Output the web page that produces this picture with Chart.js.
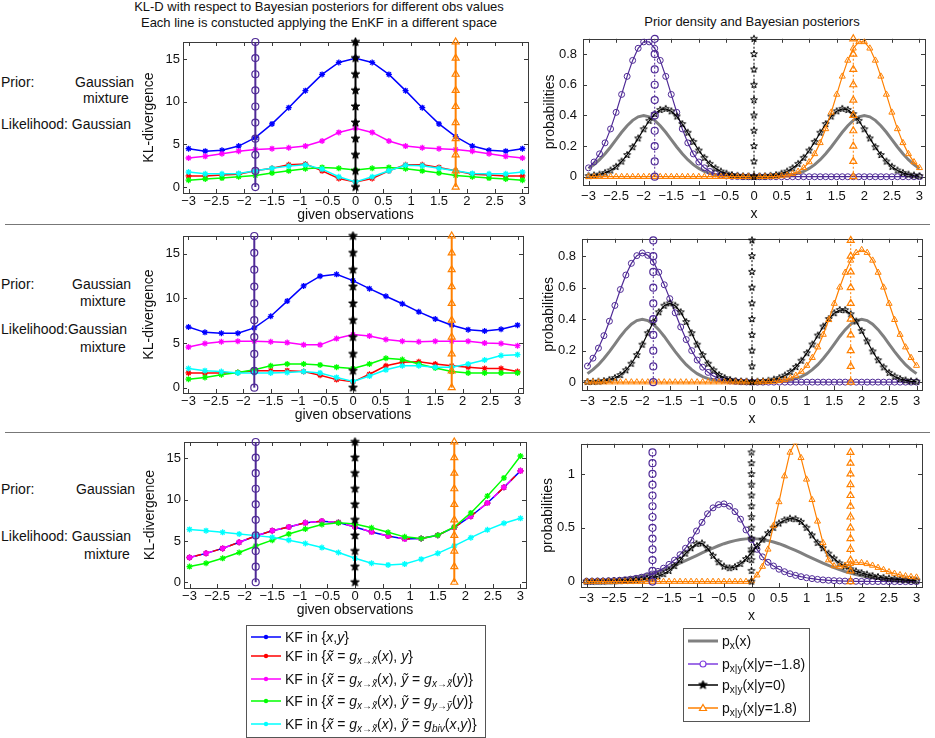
<!DOCTYPE html>
<html>
<head>
<meta charset="utf-8">
<script src="https://cdn.jsdelivr.net/npm/chart.js@4.4.1/dist/chart.umd.min.js"></script>
<style>
  body { margin: 0; background: #fff; }
  #fig { position: relative; width: 935px; height: 738px; overflow: hidden; font-family: "Liberation Sans", Arial, sans-serif; color: #111; }
  .t { position: absolute; font-size: 14px; line-height: 16px; white-space: nowrap; }
  .ttl { position: absolute; font-size: 13px; line-height: 16px; white-space: nowrap; text-align: center; }
  canvas { position: absolute; }
  .sep { position: absolute; left: 5px; width: 925px; height: 0; border-top: 1.5px solid #777; }
  .leg { position: absolute; border: 1px solid #555; background: #fff; }
  .row { position: absolute; left: 4px; height: 20px; font-size: 14px; white-space: nowrap; display: flex; align-items: center; }
  .row canvas { position: static; margin-right: 4px; flex: none; }
  .row sub { font-size: 10px; vertical-align: -3px; line-height: 0; }
</style>
</head>
<body>
<div id="fig">
  <div class="ttl" style="left:0;width:638px;top:-1px">KL-D with respect to Bayesian posteriors for different obs values</div>
  <div class="ttl" style="left:0;width:638px;top:15px">Each line is constucted applying the EnKF in a different space</div>
  <div class="ttl" style="left:600px;width:304px;top:14px">Prior density and Bayesian posteriors</div>

  <div class="t" style="left:1px;top:74px">Prior:</div>
  <div class="t" style="left:75px;top:74px">Gaussian</div>
  <div class="t" style="left:83px;top:90px">mixture</div>
  <div class="t" style="left:1px;top:116px">Likelihood: Gaussian</div>

  <div class="t" style="left:1px;top:276px">Prior:</div>
  <div class="t" style="left:72px;top:276px">Gaussian</div>
  <div class="t" style="left:80px;top:293px">mixture</div>
  <div class="t" style="left:1px;top:321px">Likelihood:Gaussian</div>
  <div class="t" style="left:80px;top:339px">mixture</div>

  <div class="t" style="left:1px;top:481px">Prior:</div>
  <div class="t" style="left:76px;top:481px">Gaussian</div>
  <div class="t" style="left:1px;top:528px">Likelihood: Gaussian</div>
  <div class="t" style="left:84px;top:546px">mixture</div>

  <div class="sep" style="top:224px"></div>
  <div class="sep" style="top:432px"></div>

  <canvas id="c1"></canvas>
  <canvas id="c2"></canvas>
  <canvas id="c3"></canvas>
  <canvas id="c4"></canvas>
  <canvas id="c5"></canvas>
  <canvas id="c6"></canvas>

  <div class="leg" style="left:246px;top:625px;width:238px;height:111px">
    <div class="row" style="top:1px"><canvas class="smp" data-c="#0000ff" data-m="dot"></canvas><span>KF in {<i>x</i>,<i>y</i>}</span></div>
    <div class="row" style="top:20px"><canvas class="smp" data-c="#ff0000" data-m="dot"></canvas><span>KF in {<i>x&#771;</i> = <i>g</i><sub><i>x</i>&rarr;<i>x&#771;</i></sub>(<i>x</i>), <i>y</i>}</span></div>
    <div class="row" style="top:43px"><canvas class="smp" data-c="#ff00ff" data-m="dot"></canvas><span>KF in {<i>x&#771;</i> = <i>g</i><sub><i>x</i>&rarr;<i>x&#771;</i></sub>(<i>x</i>), <i>&#7929;</i> = <i>g</i><sub><i>x</i>&rarr;<i>x&#771;</i></sub>(<i>y</i>)}</span></div>
    <div class="row" style="top:65px"><canvas class="smp" data-c="#00ff00" data-m="dot"></canvas><span>KF in {<i>x&#771;</i> = <i>g</i><sub><i>x</i>&rarr;<i>x&#771;</i></sub>(<i>x</i>), <i>&#7929;</i> = <i>g</i><sub><i>y</i>&rarr;<i>&#7929;</i></sub>(<i>y</i>)}</span></div>
    <div class="row" style="top:88px"><canvas class="smp" data-c="#00ffff" data-m="dot"></canvas><span>KF in {<i>x&#771;</i> = <i>g</i><sub><i>x</i>&rarr;<i>x&#771;</i></sub>(<i>x</i>), <i>&#7929;</i> = <i>g</i><sub><i>biv</i></sub>(<i>x</i>,<i>y</i>)}</span></div>
  </div>

  <div class="leg" style="left:683px;top:628px;width:125px;height:92px">
    <div class="row" style="top:2px"><canvas class="smp" data-c="#808080" data-m="none" data-w="3"></canvas><span>p<sub>x</sub>(x)</span></div>
    <div class="row" style="top:25px"><canvas class="smp" data-c="#7f3fdf" data-m="circle"></canvas><span>p<sub>x|y</sub>(x|y=&minus;1.8)</span></div>
    <div class="row" style="top:46px"><canvas class="smp" data-c="#000000" data-m="star"></canvas><span>p<sub>x|y</sub>(x|y=0)</span></div>
    <div class="row" style="top:69px"><canvas class="smp" data-c="#ff8000" data-m="triangle"></canvas><span>p<sub>x|y</sub>(x|y=1.8)</span></div>
  </div>
</div>

<script>
// observation values used in the KL-divergence panels
const obsX = [-3, -2.7, -2.4, -2.1, -1.8, -1.5, -1.2, -0.9, -0.6, -0.3, 0, 0.3, 0.6, 0.9, 1.2, 1.5, 1.8, 2.1, 2.4, 2.7, 3];

// x grid of the density panels
const gridX = [-3, -2.9, -2.8, -2.7, -2.6, -2.5, -2.4, -2.3, -2.2, -2.1,
  -2, -1.9, -1.8, -1.7, -1.6, -1.5, -1.4, -1.3, -1.2, -1.1,
  -1, -0.9, -0.8, -0.7, -0.6, -0.5, -0.4, -0.3, -0.2, -0.1,
  0,
  0.1, 0.2, 0.3, 0.4, 0.5, 0.6, 0.7, 0.8, 0.9, 1,
  1.1, 1.2, 1.3, 1.4, 1.5, 1.6, 1.7, 1.8, 1.9, 2,
  2.1, 2.2, 2.3, 2.4, 2.5, 2.6, 2.7, 2.8, 2.9, 3];

const obsMarks = [-1.8, 0, 1.8];
const klMarkY = [0, 1.89, 3.78, 5.67, 7.56, 9.44, 11.33, 13.22, 15.11, 17];
const pdfMarkY = [0, 0.1, 0.2, 0.3, 0.4, 0.5, 0.6, 0.7, 0.8, 0.9];
const pdfMarkYBottom = [0, 0.1, 0.2, 0.3, 0.4, 0.5, 0.6, 0.7, 0.8, 0.9, 1, 1.1, 1.2];

const xTicks = [-3, -2.5, -2, -1.5, -1, -0.5, 0, 0.5, 1, 1.5, 2, 2.5, 3];
const klTicks = [0, 5, 10, 15];
const pdfTicks = [0, 0.2, 0.4, 0.6, 0.8];
const pdfTicksBottom = [0, 0.5, 1];

// KL divergence, top row (prior mixture, gaussian likelihood)
const blueTop = [4.5, 4.2, 4.3, 4.8, 5.8, 7.4, 9.3, 11.3, 13.2, 14.6, 15.1, 14.6, 13.2, 11.3, 9.3, 7.4, 5.9, 4.8, 4.3, 4.2, 4.5];
const redTop = [1.3, 1.3, 1.4, 1.5, 1.9, 2.2, 2.6, 2.7, 1.9, 1.0, 0.6, 1.0, 1.9, 2.6, 2.6, 2.3, 1.9, 1.5, 1.4, 1.3, 1.3];
const magentaTop = [3.4, 3.6, 3.9, 4.2, 4.4, 4.5, 4.6, 4.8, 5.4, 6.4, 6.9, 6.4, 5.4, 4.8, 4.6, 4.5, 4.4, 4.2, 3.9, 3.6, 3.4];
const greenTop = [0.8, 0.95, 1.05, 1.2, 1.35, 1.65, 1.9, 2.15, 2.3, 2.2, 2.0, 2.2, 2.3, 2.15, 1.9, 1.65, 1.35, 1.2, 1.05, 0.95, 0.8];
const cyanTop = [1.75, 1.55, 1.55, 1.6, 1.9, 2.2, 2.45, 2.6, 2.1, 1.2, 0.6, 1.2, 1.9, 2.55, 2.5, 2.2, 1.9, 1.6, 1.55, 1.55, 1.75];

// middle row (prior mixture, mixture likelihood)
const blueMid = [6.8, 6.2, 6.1, 6.1, 6.7, 8.0, 9.7, 11.4, 12.5, 12.7, 12.0, 11.1, 10.25, 9.4, 8.5, 7.7, 7.0, 6.5, 6.35, 6.55, 7.0];
const redMid = [1.65, 1.65, 1.65, 1.7, 1.9, 1.9, 1.9, 1.8, 1.4, 0.9, 0.65, 1.5, 2.45, 2.85, 2.9, 2.65, 2.45, 2.3, 2.15, 2.15, 1.8];
const magentaMid = [4.55, 4.95, 5.15, 5.2, 5.2, 5.15, 5.05, 4.8, 4.8, 5.5, 5.95, 5.8, 5.4, 5.2, 5.15, 5.2, 5.2, 5.2, 5.0, 4.95, 4.7];
const greenMid = [0.95, 1.15, 1.45, 1.7, 2.0, 2.45, 2.65, 2.65, 2.55, 2.3, 2.15, 2.65, 3.3, 3.15, 2.65, 2.2, 1.8, 1.65, 1.65, 1.65, 1.65];
const cyanMid = [2.15, 1.9, 1.8, 1.65, 1.65, 1.65, 1.7, 1.8, 1.65, 1.15, 0.7, 1.3, 2.0, 2.45, 2.45, 2.3, 2.3, 2.65, 3.1, 3.6, 3.7];

// bottom row (gaussian prior, mixture likelihood)
const blueBot = [3.0, 3.5, 4.1, 4.85, 5.6, 6.25, 6.7, 7.2, 7.4, 7.25, 6.7, 6.1, 5.6, 5.25, 5.3, 5.7, 6.65, 8.0, 9.6, 11.5, 13.5];
const redBot = [3.0, 3.5, 4.1, 4.85, 5.6, 6.25, 6.7, 7.2, 7.4, 7.25, 6.7, 6.1, 5.6, 5.25, 5.3, 5.7, 6.65, 8.0, 9.6, 11.5, 13.5];
const magentaBot = [3.0, 3.5, 4.1, 4.85, 5.6, 6.25, 6.7, 7.2, 7.4, 7.25, 6.7, 6.1, 5.6, 5.25, 5.3, 5.7, 6.65, 8.0, 9.6, 11.5, 13.5];
const greenBot = [1.9, 2.3, 2.9, 3.6, 4.4, 5.1, 5.85, 6.45, 7.0, 7.2, 7.05, 6.6, 6.05, 5.5, 5.3, 5.7, 6.7, 8.4, 10.45, 12.65, 15.3];
const cyanBot = [6.4, 6.25, 6.05, 5.85, 5.65, 5.45, 5.1, 4.7, 4.2, 3.6, 2.9, 2.3, 2.1, 2.2, 2.8, 3.5, 4.4, 5.4, 6.35, 7.15, 7.75];

// densities
const priorMix = [0.054, 0.079, 0.111, 0.150, 0.194, 0.242, 0.290, 0.333, 0.368, 0.391,
  0.399, 0.391, 0.368, 0.333, 0.290, 0.242, 0.194, 0.150, 0.111, 0.079,
  0.054, 0.035, 0.022, 0.014, 0.008, 0.004, 0.002, 0.001, 0, 0,
  0,
  0, 0, 0.001, 0.002, 0.004, 0.008, 0.014, 0.022, 0.035, 0.054,
  0.079, 0.111, 0.150, 0.194, 0.242, 0.290, 0.333, 0.368, 0.391, 0.399,
  0.391, 0.368, 0.333, 0.290, 0.242, 0.194, 0.150, 0.111, 0.079, 0.054];
const priorGauss = [0.004, 0.006, 0.008, 0.010, 0.014, 0.018, 0.022, 0.028, 0.035, 0.044,
  0.054, 0.066, 0.079, 0.094, 0.111, 0.130, 0.150, 0.171, 0.194, 0.218,
  0.242, 0.266, 0.290, 0.312, 0.333, 0.352, 0.368, 0.381, 0.391, 0.397,
  0.399,
  0.397, 0.391, 0.381, 0.368, 0.352, 0.333, 0.312, 0.290, 0.266, 0.242,
  0.218, 0.194, 0.171, 0.150, 0.130, 0.111, 0.094, 0.079, 0.066, 0.054,
  0.044, 0.035, 0.028, 0.022, 0.018, 0.014, 0.010, 0.008, 0.006, 0.004];

const purpleTop = [0.058, 0.096, 0.149, 0.221, 0.312, 0.420, 0.537, 0.655, 0.759, 0.838,
  0.880, 0.880, 0.838, 0.759, 0.655, 0.537, 0.420, 0.312, 0.221, 0.149,
  0.096, 0.058, 0.034, 0.019, 0.010, 0.005, 0.002, 0.001, 0, 0,
  0,
  0, 0, 0, 0, 0, 0, 0, 0, 0, 0,
  0, 0, 0, 0, 0, 0, 0, 0, 0, 0,
  0, 0, 0, 0, 0, 0, 0, 0, 0, 0];
const blackTop = [0.004, 0.008, 0.014, 0.025, 0.041, 0.065, 0.099, 0.142, 0.193, 0.250,
  0.310, 0.365, 0.409, 0.436, 0.443, 0.427, 0.393, 0.344, 0.287, 0.227,
  0.171, 0.123, 0.084, 0.055, 0.034, 0.020, 0.011, 0.006, 0.003, 0.002,
  0.001,
  0.002, 0.003, 0.006, 0.011, 0.020, 0.034, 0.055, 0.084, 0.123, 0.171,
  0.227, 0.287, 0.344, 0.393, 0.427, 0.443, 0.436, 0.409, 0.365, 0.310,
  0.250, 0.193, 0.142, 0.099, 0.065, 0.041, 0.025, 0.014, 0.008, 0.004];
const orangeTop = [0, 0, 0, 0, 0, 0, 0, 0, 0, 0,
  0, 0, 0, 0, 0, 0, 0, 0, 0, 0,
  0, 0, 0, 0, 0, 0, 0, 0, 0, 0,
  0,
  0, 0, 0.001, 0.002, 0.005, 0.010, 0.019, 0.034, 0.058, 0.096,
  0.149, 0.221, 0.312, 0.420, 0.537, 0.655, 0.759, 0.838, 0.880, 0.880,
  0.838, 0.759, 0.655, 0.537, 0.420, 0.312, 0.221, 0.149, 0.096, 0.058];

const purpleMid = [0.102, 0.152, 0.216, 0.295, 0.387, 0.487, 0.588, 0.680, 0.754, 0.803,
  0.820, 0.805, 0.763, 0.698, 0.618, 0.530, 0.440, 0.350, 0.270, 0.200,
  0.140, 0.095, 0.062, 0.038, 0.023, 0.013, 0.007, 0.004, 0.002, 0.001,
  0,
  0, 0, 0, 0, 0, 0, 0, 0, 0, 0,
  0, 0, 0, 0, 0, 0, 0, 0, 0, 0,
  0, 0, 0, 0, 0, 0, 0, 0, 0, 0];
const blackMid = [0.001, 0.002, 0.003, 0.007, 0.014, 0.026, 0.045, 0.075, 0.117, 0.172,
  0.238, 0.311, 0.382, 0.444, 0.485, 0.500, 0.485, 0.444, 0.382, 0.311,
  0.238, 0.172, 0.117, 0.075, 0.045, 0.026, 0.014, 0.007, 0.004, 0.003,
  0.002,
  0.003, 0.005, 0.009, 0.016, 0.026, 0.042, 0.065, 0.096, 0.136, 0.184,
  0.239, 0.296, 0.353, 0.401, 0.438, 0.458, 0.457, 0.431, 0.385, 0.325,
  0.259, 0.195, 0.139, 0.094, 0.059, 0.036, 0.020, 0.011, 0.005, 0.003];
const orangeMid = [0, 0, 0, 0, 0, 0, 0, 0, 0, 0,
  0, 0, 0, 0, 0, 0, 0, 0, 0, 0,
  0, 0, 0, 0, 0, 0, 0, 0, 0, 0,
  0,
  0, 0.001, 0.002, 0.004, 0.008, 0.014, 0.025, 0.042, 0.067, 0.105,
  0.155, 0.222, 0.302, 0.396, 0.499, 0.602, 0.696, 0.773, 0.822, 0.840,
  0.822, 0.773, 0.696, 0.602, 0.499, 0.396, 0.302, 0.222, 0.155, 0.105];

const purpleBot = [0.003, 0.004, 0.005, 0.006, 0.008, 0.010, 0.013, 0.017, 0.023, 0.031,
  0.041, 0.054, 0.072, 0.095, 0.125, 0.160, 0.200, 0.250, 0.310, 0.385,
  0.470, 0.550, 0.630, 0.685, 0.715, 0.722, 0.700, 0.650, 0.580, 0.480,
  0.390,
  0.300, 0.230, 0.180, 0.145, 0.115, 0.092, 0.073, 0.058, 0.046, 0.036,
  0.028, 0.021, 0.016, 0.012, 0.009, 0.007, 0.005, 0.004, 0.003, 0.002,
  0.002, 0.001, 0.001, 0.001, 0, 0, 0, 0, 0, 0];
const blackBot = [0, 0, 0.001, 0.001, 0.002, 0.003, 0.004, 0.006, 0.009, 0.013,
  0.018, 0.025, 0.035, 0.050, 0.070, 0.100, 0.145, 0.200, 0.260, 0.310,
  0.350, 0.355, 0.310, 0.240, 0.180, 0.140, 0.125, 0.135, 0.165, 0.210,
  0.270,
  0.330, 0.390, 0.450, 0.500, 0.540, 0.570, 0.585, 0.580, 0.555, 0.500,
  0.430, 0.360, 0.310, 0.260, 0.215, 0.170, 0.140, 0.115, 0.095, 0.080,
  0.065, 0.053, 0.043, 0.035, 0.028, 0.023, 0.018, 0.014, 0.011, 0.009];
const orangeBot = [0, 0, 0, 0, 0, 0, 0, 0, 0, 0,
  0, 0, 0, 0, 0, 0, 0, 0, 0, 0,
  0, 0, 0, 0, 0, 0, 0, 0, 0, 0,
  0.005,
  0.06, 0.14, 0.30, 0.52, 0.74, 0.98, 1.20, 1.30, 1.15, 0.95,
  0.76, 0.56, 0.36, 0.20, 0.145, 0.14, 0.15, 0.165, 0.175, 0.175,
  0.165, 0.15, 0.13, 0.11, 0.09, 0.075, 0.062, 0.052, 0.045, 0.04];

const PURPLE = '#4f2a96';
const ORANGE = '#ff8000';

Chart.defaults.font.family = '"Liberation Sans", Arial, sans-serif';
Chart.defaults.color = '#111';

// pentagram marker, matlab 'p'
function makeStar(r, fill, stroke) {
  const c = document.createElement('canvas');
  const s = Math.ceil(2 * r + 2);
  c.width = s;
  c.height = s;
  const g = c.getContext('2d');
  g.beginPath();
  for (let i = 0; i < 10; i++) {
    const rad = i % 2 ? r * 0.42 : r;
    const a = -Math.PI / 2 + i * Math.PI / 5;
    g.lineTo(s / 2 + rad * Math.cos(a), s / 2 + rad * Math.sin(a));
  }
  g.closePath();
  if (fill) {
    g.fillStyle = fill;
    g.fill();
  }
  g.strokeStyle = stroke;
  g.lineWidth = 1;
  g.stroke();
  return c;
}
const starFilled = makeStar(4.5, '#000', '#000');
const starOpen = makeStar(3.6, null, '#000');

function pairs(xs, ys) {
  return xs.map((x, i) => ({ x: x, y: ys[i] }));
}
function vline(xv, ys) {
  return ys.map((y) => ({ x: xv, y: y }));
}
function fmtTick(v) {
  return v < 0 ? '\u2212' + Math.abs(v) : String(v);
}

// box with inward ticks on all four sides, like matlab axes
const boxPlugin = {
  id: 'box',
  beforeDatasetsDraw(chart) {
    const { ctx, chartArea: a, scales } = chart;
    ctx.save();
    ctx.strokeStyle = '#3a3a3a';
    ctx.lineWidth = 1;
    ctx.strokeRect(Math.round(a.left) + 0.5, Math.round(a.top) + 0.5, Math.round(a.right - a.left), Math.round(a.bottom - a.top));
    ctx.beginPath();
    scales.x.ticks.forEach((t) => {
      const px = Math.round(scales.x.getPixelForValue(t.value)) + 0.5;
      ctx.moveTo(px, a.bottom);
      ctx.lineTo(px, a.bottom - 4);
      ctx.moveTo(px, a.top);
      ctx.lineTo(px, a.top + 4);
    });
    scales.y.ticks.forEach((t) => {
      const py = Math.round(scales.y.getPixelForValue(t.value)) + 0.5;
      ctx.moveTo(a.left, py);
      ctx.lineTo(a.left + 4, py);
      ctx.moveTo(a.right, py);
      ctx.lineTo(a.right - 4, py);
    });
    ctx.stroke();
    ctx.restore();
  }
};

function createChart(id, box, p, datasets) {
  const cv = document.getElementById(id);
  const w = box.R - box.L + p.yW + 12;
  const h = box.B - box.T + 12 + p.xH;
  cv.style.left = (box.L - p.yW) + 'px';
  cv.style.top = (box.T - 12) + 'px';
  cv.width = w;
  cv.height = h;
  cv.style.width = w + 'px';
  cv.style.height = h + 'px';

  return new Chart(cv, {
    type: 'line',
    data: { datasets: datasets },
    options: {
      responsive: false,
      animation: false,
      events: [],
      layout: { padding: { top: 12, right: 12, left: 0, bottom: 0 } },
      plugins: { legend: { display: false }, tooltip: { enabled: false } },
      elements: { line: { tension: 0 } },
      scales: {
        x: {
          type: 'linear',
          min: -3.1,
          max: 3.1,
          afterBuildTicks: (s) => { s.ticks = xTicks.map((v) => ({ value: v })); },
          afterFit: (s) => { s.height = p.xH; },
          grid: { display: false, drawTicks: false },
          border: { display: false },
          ticks: { autoSkip: false, maxRotation: 0, padding: p.xPad, font: { size: 13 }, color: '#111', callback: fmtTick },
          title: { display: true, text: p.xTitle, font: { size: 14 }, color: '#111', padding: { top: 0, bottom: 1 } }
        },
        y: {
          type: 'linear',
          min: p.yMin,
          max: p.yMax,
          afterBuildTicks: (s) => { s.ticks = p.yTicks.map((v) => ({ value: v })); },
          afterFit: (s) => { s.width = p.yW; },
          grid: { display: false, drawTicks: false },
          border: { display: false },
          ticks: { padding: p.yPad, font: { size: 13 }, color: '#111', callback: fmtTick },
          title: { display: true, text: p.yTitle, font: { size: 14 }, color: '#111', padding: { top: 1, bottom: 0 } }
        }
      }
    },
    plugins: [boxPlugin]
  });
}

function klChart(id, box, yMin, series, dashed) {
  const colors = ['#0000ff', '#ff0000', '#ff00ff', '#00ff00', '#00ffff'];
  const datasets = series.map((s, i) => ({
    data: pairs(obsX, s),
    borderColor: colors[i],
    borderWidth: 1.5,
    pointStyle: 'star',
    pointRadius: 3,
    pointBorderWidth: 1.3,
    pointBorderColor: colors[i],
    pointBackgroundColor: colors[i],
    borderDash: dashed && (i === 1 || i === 2) ? [6, 12] : [],
    borderDashOffset: dashed && i === 1 ? -6 : 0,
    order: 5 - i
  }));
  const markers = [
    { style: 'circle', color: PURPLE, r: 3.5 },
    { style: starFilled, color: '#000', r: 4.5 },
    { style: 'triangle', color: ORANGE, r: 4 }
  ];
  obsMarks.forEach((xv, i) => {
    datasets.push({
      data: vline(xv, klMarkY),
      borderColor: markers[i].color,
      borderWidth: 2,
      pointStyle: markers[i].style,
      pointRadius: markers[i].r,
      pointBorderWidth: 1.2,
      pointBorderColor: markers[i].color,
      pointBackgroundColor: 'rgba(0,0,0,0)',
      clip: false,
      order: 0
    });
  });
  return createChart(id, box, {
    yW: 43, xH: 32, xPad: 1, yPad: 3,
    yMin: yMin, yMax: 17, yTicks: klTicks,
    xTitle: 'given observations', yTitle: 'KL-divergence'
  }, datasets);
}

function pdfChart(id, box, yMin, yMax, yTicks, prior, purple, black, orange, markY) {
  const datasets = [
    { data: pairs(gridX, prior), borderColor: '#808080', borderWidth: 3, pointRadius: 0, order: 4 },
    { data: pairs(gridX, purple), borderColor: PURPLE, borderWidth: 1.2, pointStyle: 'circle', pointRadius: 3,
      pointBorderWidth: 1, pointBorderColor: PURPLE, pointBackgroundColor: 'rgba(0,0,0,0)', order: 3 },
    { data: pairs(gridX, black), borderColor: '#000', borderWidth: 1.2, pointStyle: starOpen, pointRadius: 3.6, order: 2 },
    { data: pairs(gridX, orange), borderColor: ORANGE, borderWidth: 1.2, pointStyle: 'triangle', pointRadius: 3.5,
      pointBorderWidth: 1, pointBorderColor: ORANGE, pointBackgroundColor: 'rgba(0,0,0,0)', order: 1 }
  ];
  const markers = [
    { style: 'circle', color: PURPLE, r: 3.5 },
    { style: starOpen, color: '#000', r: 3.6 },
    { style: 'triangle', color: ORANGE, r: 4 }
  ];
  obsMarks.forEach((xv, i) => {
    datasets.push({
      data: vline(xv, markY),
      borderColor: markers[i].color,
      borderWidth: 1,
      borderDash: [2, 2],
      pointStyle: markers[i].style,
      pointRadius: markers[i].r,
      pointBorderWidth: 1.2,
      pointBorderColor: markers[i].color,
      pointBackgroundColor: 'rgba(0,0,0,0)',
      clip: false,
      order: 0
    });
  });
  return createChart(id, box, {
    yW: 42, xH: 39, xPad: 4, yPad: 6,
    yMin: yMin, yMax: yMax, yTicks: yTicks,
    xTitle: 'x', yTitle: 'probabilities'
  }, datasets);
}

klChart('c1', { L: 183, R: 528, T: 42, B: 193 }, -0.7, [blueTop, redTop, magentaTop, greenTop, cyanTop], false);
klChart('c3', { L: 183, R: 523, T: 236, B: 393 }, -0.6, [blueMid, redMid, magentaMid, greenMid, cyanMid], false);
klChart('c5', { L: 184, R: 526, T: 442, B: 588 }, -0.7, [blueBot, redBot, magentaBot, greenBot, cyanBot], true);

pdfChart('c2', { L: 583, R: 925, T: 37, B: 185 }, -0.054, 0.9, pdfTicks, priorMix, purpleTop, blackTop, orangeTop, pdfMarkY);
pdfChart('c4', { L: 582, R: 922, T: 237, B: 390 }, -0.05, 0.91, pdfTicks, priorMix, purpleMid, blackMid, orangeMid, pdfMarkY);
pdfChart('c6', { L: 581, R: 922, T: 442, B: 587 }, -0.05, 1.28, pdfTicksBottom, priorGauss, purpleBot, blackBot, orangeBot, pdfMarkYBottom);

// legend samples
document.querySelectorAll('canvas.smp').forEach((c) => {
  c.width = 30;
  c.height = 12;
  const g = c.getContext('2d');
  const col = c.dataset.c;
  g.strokeStyle = col;
  g.fillStyle = col;
  g.lineWidth = Number(c.dataset.w || 1.5);
  g.beginPath();
  g.moveTo(0, 6);
  g.lineTo(30, 6);
  g.stroke();
  g.lineWidth = 1.2;
  const m = c.dataset.m;
  if (m === 'dot') {
    g.beginPath();
    g.arc(15, 6, 2.2, 0, Math.PI * 2);
    g.fill();
  } else if (m === 'circle') {
    g.fillStyle = '#fff';
    g.beginPath();
    g.arc(15, 6, 3, 0, Math.PI * 2);
    g.fill();
    g.stroke();
  } else if (m === 'star') {
    g.drawImage(starFilled, 15 - starFilled.width / 2, 6 - starFilled.height / 2);
  } else if (m === 'triangle') {
    g.fillStyle = '#fff';
    g.beginPath();
    g.moveTo(15, 2.5);
    g.lineTo(18.5, 8.5);
    g.lineTo(11.5, 8.5);
    g.closePath();
    g.fill();
    g.stroke();
  }
});
</script>
</body>
</html>
